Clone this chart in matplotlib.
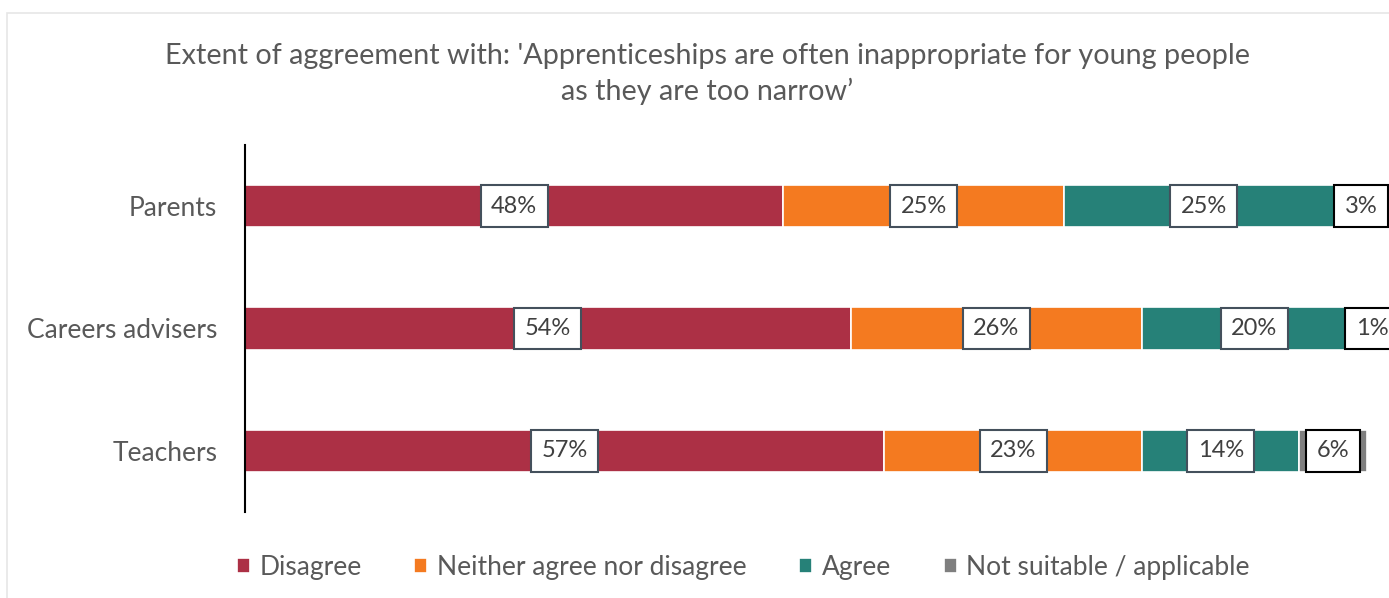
import matplotlib.pyplot as plt
from matplotlib.patches import Rectangle
import numpy as np

plt.rcParams['font.family'] = ['Lato', 'DejaVu Sans']

# Catégories (du bas vers le haut) et pourcentages par réponse
groupes = ["Teachers", "Careers advisers", "Parents"]
disagree = [57, 54, 48]
neither = [23, 26, 25]
agree = [14, 20, 25]
not_suitable = [6, 1, 3]

series = ["Disagree", "Neither agree nor disagree", "Agree", "Not suitable / applicable"]
couleurs = ["#AC3045", "#F47A20", "#268178", "#7F7F7F"]
valeurs = [disagree, neither, agree, not_suitable]

fig = plt.figure(figsize=(13.89, 5.98), dpi=100)

# cadre gris clair autour du graphique
fig.patches.append(Rectangle((7 / 1389, -0.1), 1.2, 1.1 - 13 / 598, transform=fig.transFigure,
                             fill=False, edgecolor="#E6E6E6", linewidth=1.2))

ax = fig.add_axes([245 / 1389, 1 - 512 / 598, (1389 - 245) / 1389, (512 - 145) / 598])

y = np.arange(len(groupes))
gauche = np.zeros(len(groupes))
for nom, coul, vals in zip(series, couleurs, valeurs):
    vals = np.array(vals, dtype=float)
    ax.barh(y, vals, left=gauche, height=0.345, color=coul, edgecolor="white",
            linewidth=1.2, label=nom, clip_on=False)
    for yi, g, v in zip(y, gauche, vals):
        bord = "black" if nom == series[-1] else "#44505C"
        ax.text(g + v / 2, yi, f"{int(v)}%", ha="center", va="center", fontsize=17,
                color="#404040",
                bbox=dict(boxstyle="square,pad=0.44", facecolor="white", edgecolor=bord,
                          linewidth=1.5))
    gauche += vals

ax.set_xlim(0, 102)
ax.set_ylim(-0.5, 2.5)
ax.set_yticks(y)
ax.set_yticklabels(groupes, fontsize=19, color="#595959")
ax.tick_params(axis="y", length=0, pad=20)
ax.set_xticks([])
for cote in ["top", "right", "bottom"]:
    ax.spines[cote].set_visible(False)
ax.spines["left"].set_linewidth(1.5)
ax.spines["left"].set_color("black")

fig.text(0.509, 1 - 74 / 598,
         "Extent of aggreement with: 'Apprenticeships are often inappropriate for young people\n"
         "as they are too narrow\u2019",
         ha="center", va="center", fontsize=20.7, color="#595959", linespacing=1.42)

leg = fig.legend(loc="center", bbox_to_anchor=(0.535, 1 - 567 / 598), ncol=4, frameon=False,
                 fontsize=19, handlelength=0.5, handleheight=0.5, handletextpad=0.35,
                 columnspacing=2.0)
for t in leg.get_texts():
    t.set_color("#595959")

fig.savefig("out.png", dpi=100)
